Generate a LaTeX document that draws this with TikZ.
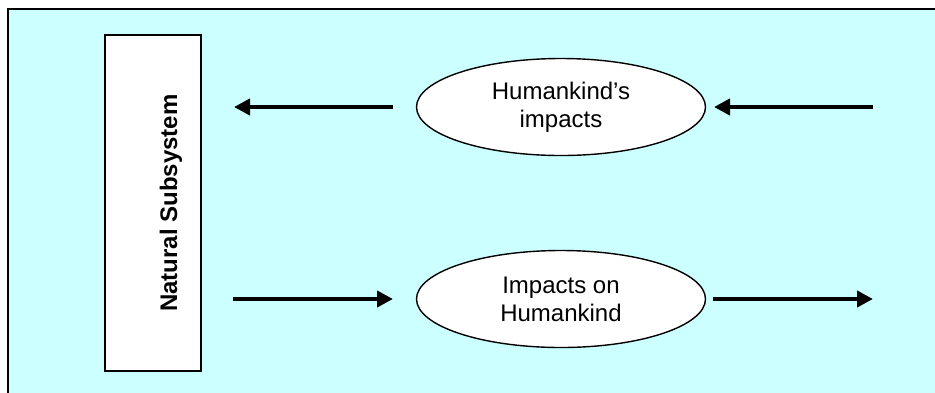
\documentclass[tikz,border=0pt]{standalone}
\usepackage{fontspec}
\setmainfont{Liberation Sans}
\usetikzlibrary{shapes.geometric,arrows.meta}
\definecolor{bgcyan}{HTML}{CCFFFF}
\tikzset{
  x=1pt,y=-1pt,
  bubble/.style={draw=black,line width=1.4pt,fill=white,ellipse,minimum width=289pt,minimum height=97pt,inner sep=0pt,align=center,font=\fontsize{24}{28}\selectfont},
  flow/.style={line width=4.5pt,-{Triangle[length=16pt,width=16pt]}},
}
\begin{document}
\begin{tikzpicture}
\useasboundingbox (0,0) rectangle (935,392);
\begin{scope}
\clip (0,0) rectangle (935,392);
\draw[line width=2pt,fill=bgcyan] (8,9) rectangle (945,402);
\end{scope}
\node[draw=black,line width=1.5pt,fill=white,minimum width=96pt,minimum height=336pt,inner sep=0pt] (nat) at (153,203) {};
\node[rotate=90,font=\fontsize{24}{28}\selectfont\bfseries] (natlabel) at (171,203) {Natural Subsystem};
\node[bubble] (hi) at (561,107) {Humankind’s\\impacts};
\node[bubble] (ih) at (561,299) {Impacts on\\Humankind};
\coordinate (a1s) at (393,107);
\coordinate (a1e) at (234,107);
\coordinate (a2s) at (873,107);
\coordinate (a2e) at (714,107);
\coordinate (a3s) at (233,299);
\coordinate (a3e) at (393,299);
\coordinate (a4s) at (713,299);
\coordinate (a4e) at (873,299);
\draw[flow] (a1s) -- (a1e);
\draw[flow] (a2s) -- (a2e);
\draw[flow] (a3s) -- (a3e);
\draw[flow] (a4s) -- (a4e);
\end{tikzpicture}
\end{document}
